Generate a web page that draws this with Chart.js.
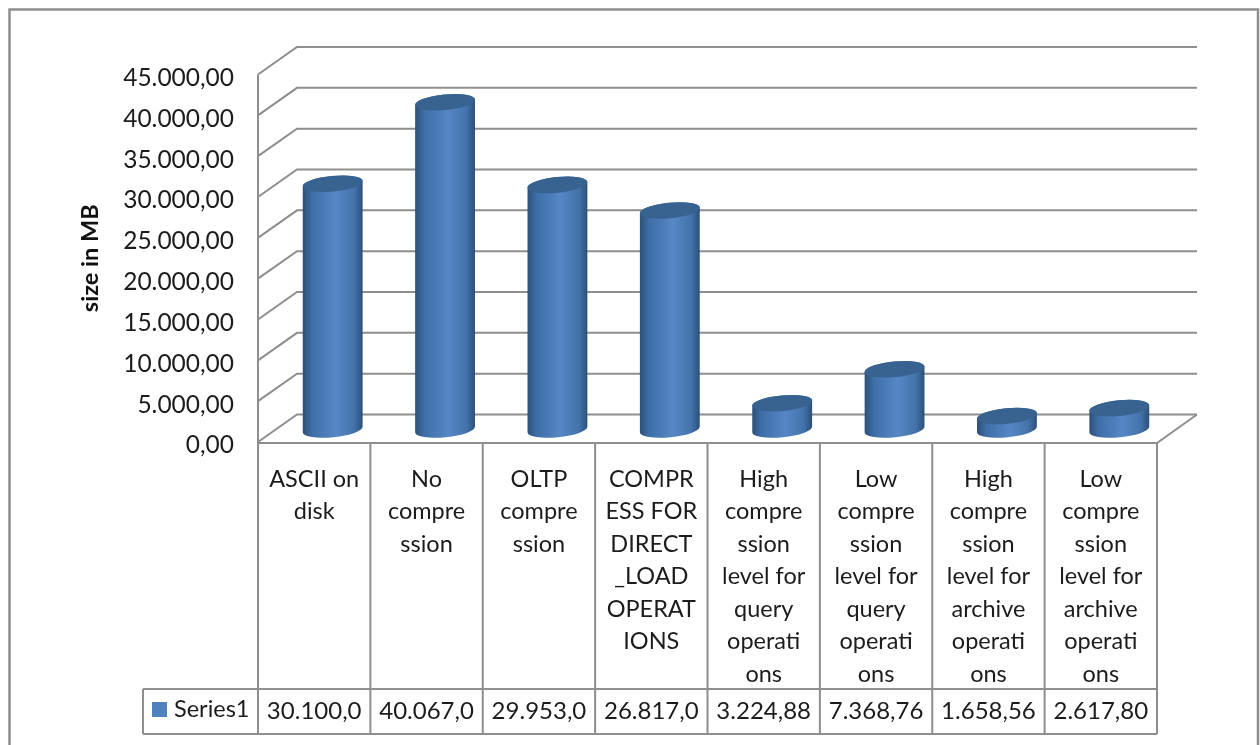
<!DOCTYPE html>
<html>
<head>
<meta charset="utf-8">
<style>
html,body{margin:0;padding:0;background:#fff;overflow:hidden}
canvas{display:block;filter:blur(0.45px)}
</style>
<script src="https://cdn.jsdelivr.net/npm/chart.js@4/dist/chart.umd.min.js"></script>
</head>
<body>
<canvas id="c" width="1260" height="745"></canvas>
<script>
const categories = [
  ["ASCII on","disk"],
  ["No","compre","ssion"],
  ["OLTP","compre","ssion"],
  ["COMPR","ESS FOR","DIRECT","_LOAD","OPERAT","IONS"],
  ["High","compre","ssion","level for","query","operati","ons"],
  ["Low","compre","ssion","level for","query","operati","ons"],
  ["High","compre","ssion","level for","archive","operati","ons"],
  ["Low","compre","ssion","level for","archive","operati","ons"]
];
const seriesName = "Series1";
const seriesValues = [30100, 40067, 29953, 26817, 3224.88, 7368.76, 1658.56, 2617.80];
const tableLabels = ["30.100,0","40.067,0","29.953,0","26.817,0","3.224,88","7.368,76","1.658,56","2.617,80"];
const yAxisTitle = "size in MB";

const FONT = "Lato, Carlito, sans-serif";
const TEXT = "#1c1c1c";
const LINE = "#8e8e8e";
const BLUE = "#4f81bd";

function fmt(v){
  const s = Math.round(v).toString().replace(/\B(?=(\d{3})+(?!\d))/g,".");
  return s + ",00";
}

const depth = {dx:39, dy:-27.5};
const barShift = {dx:18.5, dy:-12.5};

function drawFrame(ctx){
  ctx.save();
  ctx.strokeStyle = LINE; ctx.lineWidth = 2.5;
  ctx.beginPath();
  ctx.moveTo(9.5,750); ctx.lineTo(9.5,9.5); ctx.lineTo(1258,9.5); ctx.lineTo(1258,750);
  ctx.stroke();
  ctx.restore();
}

const wall3d = {
  id:"wall3d",
  beforeDatasetsDraw(chart){
    const ctx = chart.ctx, {left,right,bottom} = chart.chartArea, y = chart.scales.y;
    drawFrame(ctx);
    ctx.save();
    ctx.strokeStyle = LINE; ctx.lineWidth = 2;
    ctx.lineJoin = "miter";
    y.ticks.forEach(t=>{
      const py = y.getPixelForValue(t.value);
      ctx.beginPath();
      ctx.moveTo(left,py);
      ctx.lineTo(left+depth.dx,py+depth.dy);
      ctx.lineTo(right+depth.dx+1,py+depth.dy);
      ctx.stroke();
    });
    // floor right edge, front edge, y axis
    ctx.beginPath();
    ctx.moveTo(right+depth.dx+1,bottom+depth.dy);
    ctx.lineTo(right,bottom+1);
    ctx.lineTo(left,bottom+1);
    ctx.lineTo(left,y.getPixelForValue(45000));
    ctx.stroke();
    // data table
    const tTop = 689, tBot = 734, tLeft = 143;
    const x = chart.scales.x;
    const step = (right-left)/categories.length;
    ctx.beginPath();
    ctx.moveTo(tLeft,tTop); ctx.lineTo(right,tTop);
    ctx.moveTo(tLeft,tBot); ctx.lineTo(right,tBot);
    ctx.moveTo(tLeft,tTop); ctx.lineTo(tLeft,tBot);
    for(let i=0;i<=categories.length;i++){
      ctx.moveTo(left+i*step,bottom+1); ctx.lineTo(left+i*step,tBot);
    }
    ctx.stroke();
    ctx.fillStyle = BLUE;
    ctx.fillRect(152,702,15,15);
    ctx.fillStyle = TEXT;
    ctx.font = "23.5px "+FONT;
    ctx.textBaseline = "middle";
    ctx.textAlign = "left";
    ctx.fillText(seriesName,174,709);
    ctx.font = "24px "+FONT;
    ctx.textAlign = "center";
    tableLabels.forEach((s,i)=>ctx.fillText(s,x.getPixelForTick(i),711));
    ctx.restore();
  },
  afterDatasetsDraw(chart){
    const ctx = chart.ctx;
    const meta = chart.getDatasetMeta(0);
    const rot = -5.5*Math.PI/180, ry = 7.8;
    meta.data.forEach(el=>{
      const cx = el.x+barShift.dx, rx = el.width/2;
      const top = el.y+barShift.dy, base = el.base+barShift.dy;
      const g = ctx.createLinearGradient(cx-rx,0,cx+rx,0);
      g.addColorStop(0,"#2c5078");
      g.addColorStop(0.16,"#3f6fa8");
      g.addColorStop(0.55,"#5687c6");
      g.addColorStop(0.85,"#4474ab");
      g.addColorStop(1,"#2b4f7c");
      ctx.beginPath();
      ctx.ellipse(cx,base,rx,ry,rot,0,Math.PI);
      ctx.ellipse(cx,top,rx,ry,rot,Math.PI,2*Math.PI);
      ctx.closePath();
      ctx.fillStyle = g; ctx.fill();
      ctx.beginPath();
      ctx.ellipse(cx,top,rx,ry,rot,0,2*Math.PI);
      ctx.fillStyle = "#38628f"; ctx.fill();
    });
  }
};

new Chart(document.getElementById("c"),{
  type:"bar",
  data:{labels:categories,datasets:[{label:seriesName,data:seriesValues,
    backgroundColor:"rgba(0,0,0,0)",categoryPercentage:1,barPercentage:0.535}]},
  plugins:[wall3d],
  options:{
    responsive:false,animation:false,
    layout:{padding:{left:0,top:74.5,right:103,bottom:0}},
    plugins:{legend:{display:false},tooltip:{enabled:false},title:{display:false}},
    scales:{
      y:{min:0,max:45000,
        title:{display:true,text:yAxisTitle,color:"#111",
          font:{family:FONT,size:23.5,weight:"bold",lineHeight:1.2},padding:{top:76,bottom:0}},
        ticks:{stepSize:5000,padding:24,labelOffset:3.5,color:TEXT,font:{family:FONT,size:24.5},callback:fmt},
        grid:{display:false,drawTicks:false},border:{display:false},
        afterFit(s){s.width=258;}
      },
      x:{
        ticks:{autoSkip:false,maxRotation:0,minRotation:0,padding:21,color:TEXT,
          font:{family:FONT,size:23.5,lineHeight:32.5/23.5}},
        grid:{display:false,drawTicks:false},border:{display:false},
        afterFit(s){s.height=745-442;}
      }
    }
  }
});
</script>
</body>
</html>
